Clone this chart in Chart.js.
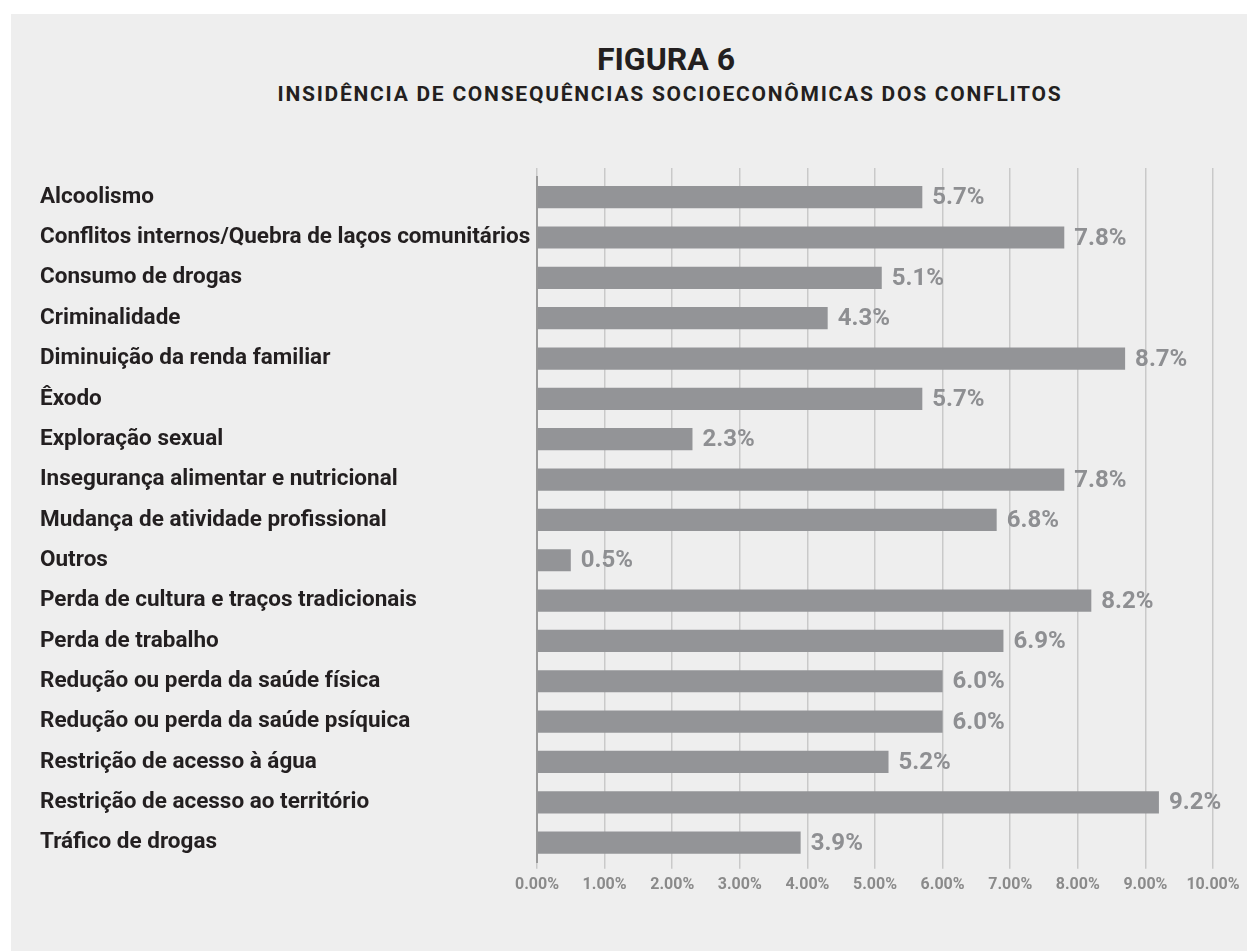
<!DOCTYPE html>
<html lang="pt">
<head>
  <meta charset="UTF-8" />
  <title>Figura 6</title>
  <script src="https://cdn.jsdelivr.net/npm/chart.js"></script>
  <style>
    body {
      margin: 0;
      background: #ffffff;
      font-family: Roboto, sans-serif;
      overflow: hidden;
    }

    .panel {
      position: absolute;
      left: 11px;
      top: 14px;
      width: 1236px;
      height: 937px;
      background: #eeeeee;
    }

    .title, .subtitle {
      position: absolute;
      left: 0;
      width: 1332px;
      text-align: center;
      font-weight: bold;
      color: #231f20;
      line-height: 1;
      white-space: nowrap;
    }

    .title {
      top: 29px;
      margin-left: -11px;
      font-size: 32px;
    }

    .subtitle {
      top: 70px;
      margin-left: -7px;
      font-size: 21px;
      letter-spacing: 1.75px;
    }

    .chart-box {
      position: absolute;
      left: 0;
      top: 0;
      width: 1236px;
      height: 937px;
    }
  </style>
</head>
<body>

<div class="panel">
  <div class="title">FIGURA 6</div>
  <div class="subtitle">INSIDÊNCIA DE CONSEQUÊNCIAS SOCIOECONÔMICAS DOS CONFLITOS</div>
  <div class="chart-box">
    <canvas id="chart"></canvas>
  </div>
</div>

<script>
  // categories and values (%)
  const categories = [
    "Alcoolismo",
    "Conflitos internos/Quebra de laços comunitários",
    "Consumo de drogas",
    "Criminalidade",
    "Diminuição da renda familiar",
    "Êxodo",
    "Exploração sexual",
    "Insegurança alimentar e nutricional",
    "Mudança de atividade profissional",
    "Outros",
    "Perda de cultura e traços tradicionais",
    "Perda de trabalho",
    "Redução ou perda da saúde física",
    "Redução ou perda da saúde psíquica",
    "Restrição de acesso à água",
    "Restrição de acesso ao território",
    "Tráfico de drogas"
  ];
  const values = [5.7, 7.8, 5.1, 4.3, 8.7, 5.7, 2.3, 7.8, 6.8, 0.5, 8.2, 6.9, 6.0, 6.0, 5.2, 9.2, 3.9];

  const xMin = 0;
  const xMax = 10;
  const xStep = 1;

  // value labels at the end of each bar
  const barLabels = {
    id: 'barLabels',
    afterDatasetsDraw(chart) {
      const ctx = chart.ctx;
      const meta = chart.getDatasetMeta(0);
      ctx.save();
      ctx.font = 'bold 24px Roboto';
      ctx.fillStyle = '#8e8f92';
      ctx.textAlign = 'left';
      ctx.textBaseline = 'middle';
      meta.data.forEach((bar, i) => {
        ctx.fillText(values[i].toFixed(1) + '%', bar.x + 10, bar.y + 1);
      });
      ctx.restore();
    }
  };

  const gridColor = '#c9c9c9';

  new Chart(document.getElementById('chart'), {
    type: 'bar',
    data: {
      labels: categories,
      datasets: [{
        data: values,
        backgroundColor: '#939497',
        barPercentage: 0.55,
        categoryPercentage: 1
      }]
    },
    options: {
      indexAxis: 'y',
      responsive: true,
      maintainAspectRatio: false,
      animation: false,
      layout: {
        padding: { left: 29, right: 34, top: 154, bottom: 49 }
      },
      plugins: {
        legend: { display: false },
        tooltip: { enabled: false }
      },
      scales: {
        x: {
          position: 'bottom',
          min: xMin,
          max: xMax,
          ticks: {
            stepSize: xStep,
            maxRotation: 0,
            padding: 7,
            color: '#8a8a8a',
            font: { family: 'Roboto', weight: 'bold', size: 16 },
            callback: v => v.toFixed(2) + '%'
          },
          grid: { color: gridColor, lineWidth: 1.5, tickLength: 6 },
          border: { display: false }
        },
        x2: {
          type: 'linear',
          position: 'top',
          min: xMin,
          max: xMax,
          ticks: { stepSize: xStep, display: false },
          grid: { color: gridColor, lineWidth: 1.5, tickLength: 9, drawOnChartArea: false },
          border: { display: false }
        },
        y: {
          ticks: {
            autoSkip: false,
            crossAlign: 'far',
            color: '#231f20',
            font: { family: 'Roboto', weight: 'bold', size: 22.5 }
          },
          grid: { display: false },
          border: { color: '#9a9a9a', width: 2 },
          afterFit(scale) { scale.width = 497; }
        }
      }
    },
    plugins: [barLabels]
  });
</script>
</body>
</html>
